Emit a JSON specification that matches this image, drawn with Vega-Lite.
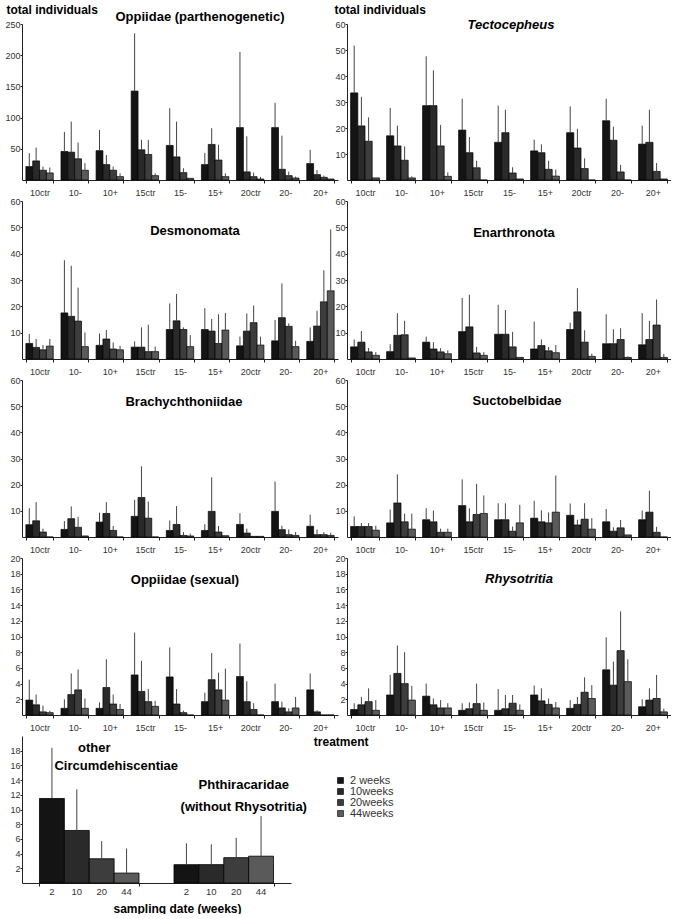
{
"$schema": "https://vega.github.io/schema/vega-lite/v6.json",
"background": "white",
"padding": {"left": 4, "top": 3, "right": 0, "bottom": 0},
"config": {
  "font": "Liberation Sans",
  "view": {"stroke": null},
  "axis": {"labelFont": "Liberation Sans", "labelFontSize": 9, "labelColor": "#333", "domainColor": "#222", "tickColor": "#222", "grid": false, "titleFont": "Liberation Sans", "labelOverlap": false},
  "title": {"font": "Liberation Sans", "fontSize": 13, "fontWeight": "bold", "frame": "group", "anchor": "middle", "color": "#000"},
  "legend": {"labelFont": "Liberation Sans"}
},
"data": {"values": [
{"p":"opp","t":"10ctr","w":"2","m":21.5,"u":43},{"p":"opp","t":"10ctr","w":"10","m":30.6,"u":52},{"p":"opp","t":"10ctr","w":"20","m":15.6,"u":21.5},{"p":"opp","t":"10ctr","w":"44","m":11.3,"u":20},
{"p":"opp","t":"10-","w":"2","m":45.7,"u":77},{"p":"opp","t":"10-","w":"10","m":44.6,"u":93.5},{"p":"opp","t":"10-","w":"20","m":34,"u":60},{"p":"opp","t":"10-","w":"44","m":15.6,"u":27},
{"p":"opp","t":"10+","w":"2","m":47,"u":80},{"p":"opp","t":"10+","w":"10","m":24.7,"u":40},{"p":"opp","t":"10+","w":"20","m":15.6,"u":21.5},{"p":"opp","t":"10+","w":"44","m":5.4,"u":10.7},
{"p":"opp","t":"15ctr","w":"2","m":142.5,"u":235},{"p":"opp","t":"15ctr","w":"10","m":48.4,"u":64.5},{"p":"opp","t":"15ctr","w":"20","m":40.9,"u":64.5},{"p":"opp","t":"15ctr","w":"44","m":7,"u":10.7},
{"p":"opp","t":"15-","w":"2","m":55.4,"u":115},{"p":"opp","t":"15-","w":"10","m":37,"u":93.5},{"p":"opp","t":"15-","w":"20","m":11.8,"u":18.8},{"p":"opp","t":"15-","w":"44","m":2.7,"u":2.7},
{"p":"opp","t":"15+","w":"2","m":24.7,"u":43.5},{"p":"opp","t":"15+","w":"10","m":57,"u":83},{"p":"opp","t":"15+","w":"20","m":32,"u":56.5},{"p":"opp","t":"15+","w":"44","m":5.4,"u":10.7},
{"p":"opp","t":"20ctr","w":"2","m":84,"u":205},{"p":"opp","t":"20ctr","w":"10","m":13,"u":70},{"p":"opp","t":"20ctr","w":"20","m":5.4,"u":11.8},{"p":"opp","t":"20ctr","w":"44","m":1.6,"u":5},
{"p":"opp","t":"20-","w":"2","m":84,"u":123.7},{"p":"opp","t":"20-","w":"10","m":17.2,"u":71},{"p":"opp","t":"20-","w":"20","m":7,"u":13.4},{"p":"opp","t":"20-","w":"44","m":3.2,"u":5.4},
{"p":"opp","t":"20+","w":"2","m":26.3,"u":48.4},{"p":"opp","t":"20+","w":"10","m":8.6,"u":16},{"p":"opp","t":"20+","w":"20","m":4.3,"u":7},{"p":"opp","t":"20+","w":"44","m":1.6,"u":1.6},

{"p":"tec","t":"10ctr","w":"2","m":33.5,"u":51.7},{"p":"tec","t":"10ctr","w":"10","m":20.8,"u":32},{"p":"tec","t":"10ctr","w":"20","m":14.9,"u":24.1},{"p":"tec","t":"10ctr","w":"44","m":0.8,"u":0.8},
{"p":"tec","t":"10-","w":"2","m":17,"u":27.7},{"p":"tec","t":"10-","w":"10","m":13.1,"u":20.9},{"p":"tec","t":"10-","w":"20","m":7.6,"u":12.9},{"p":"tec","t":"10-","w":"44","m":0.8,"u":1.4},
{"p":"tec","t":"10+","w":"2","m":28.6,"u":47.6},{"p":"tec","t":"10+","w":"10","m":28.6,"u":42.2},{"p":"tec","t":"10+","w":"20","m":13.1,"u":21.2},{"p":"tec","t":"10+","w":"44","m":1.4,"u":2.9},
{"p":"tec","t":"15ctr","w":"2","m":19.2,"u":31.2},{"p":"tec","t":"15ctr","w":"10","m":10.5,"u":16.5},{"p":"tec","t":"15ctr","w":"20","m":4.7,"u":7.4},{"p":"tec","t":"15ctr","w":"44","m":0,"u":0},
{"p":"tec","t":"15-","w":"2","m":14.5,"u":28.6},{"p":"tec","t":"15-","w":"10","m":18.2,"u":27},{"p":"tec","t":"15-","w":"20","m":2.7,"u":4.9},{"p":"tec","t":"15-","w":"44","m":0.4,"u":0.4},
{"p":"tec","t":"15+","w":"2","m":11.2,"u":15.5},{"p":"tec","t":"15+","w":"10","m":10.5,"u":13.7},{"p":"tec","t":"15+","w":"20","m":4.1,"u":7.4},{"p":"tec","t":"15+","w":"44","m":1.5,"u":4},
{"p":"tec","t":"20ctr","w":"2","m":18.2,"u":28.3},{"p":"tec","t":"20ctr","w":"10","m":12.3,"u":19.7},{"p":"tec","t":"20ctr","w":"20","m":4.4,"u":8.3},{"p":"tec","t":"20ctr","w":"44","m":0,"u":0},
{"p":"tec","t":"20-","w":"2","m":22.8,"u":31.2},{"p":"tec","t":"20-","w":"10","m":15.3,"u":20.5},{"p":"tec","t":"20-","w":"20","m":3.1,"u":5.8},{"p":"tec","t":"20-","w":"44","m":0,"u":0},
{"p":"tec","t":"20+","w":"2","m":13.8,"u":20.9},{"p":"tec","t":"20+","w":"10","m":14.5,"u":27},{"p":"tec","t":"20+","w":"20","m":3.3,"u":6.5},{"p":"tec","t":"20+","w":"44","m":0.4,"u":0.4},

{"p":"des","t":"10ctr","w":"2","m":5.9,"u":9.5},{"p":"des","t":"10ctr","w":"10","m":4.4,"u":7.6},{"p":"des","t":"10ctr","w":"20","m":3.5,"u":5.3},{"p":"des","t":"10ctr","w":"44","m":4.9,"u":7.6},
{"p":"des","t":"10-","w":"2","m":17.5,"u":37.5},{"p":"des","t":"10-","w":"10","m":16.2,"u":35.4},{"p":"des","t":"10-","w":"20","m":14.4,"u":27.1},{"p":"des","t":"10-","w":"44","m":4.7,"u":10.1},
{"p":"des","t":"10+","w":"2","m":5.2,"u":9.7},{"p":"des","t":"10+","w":"10","m":7.6,"u":11},{"p":"des","t":"10+","w":"20","m":3.8,"u":6.3},{"p":"des","t":"10+","w":"44","m":3.5,"u":5},
{"p":"des","t":"15ctr","w":"2","m":4.5,"u":6.7},{"p":"des","t":"15ctr","w":"10","m":4.5,"u":12},{"p":"des","t":"15ctr","w":"20","m":2.8,"u":13},{"p":"des","t":"15ctr","w":"44","m":2.8,"u":4.7},
{"p":"des","t":"15-","w":"2","m":11.2,"u":21.1},{"p":"des","t":"15-","w":"10","m":14.5,"u":24.7},{"p":"des","t":"15-","w":"20","m":11.2,"u":12},{"p":"des","t":"15-","w":"44","m":4.7,"u":9.1},
{"p":"des","t":"15+","w":"2","m":11.2,"u":19.3},{"p":"des","t":"15+","w":"10","m":10.6,"u":15.2},{"p":"des","t":"15+","w":"20","m":5.9,"u":17},{"p":"des","t":"15+","w":"44","m":11,"u":17.5},
{"p":"des","t":"20ctr","w":"2","m":5,"u":8.5},{"p":"des","t":"20ctr","w":"10","m":10.6,"u":17.3},{"p":"des","t":"20ctr","w":"20","m":13.8,"u":20.3},{"p":"des","t":"20ctr","w":"44","m":5.3,"u":8.5},
{"p":"des","t":"20-","w":"2","m":6.9,"u":14.8},{"p":"des","t":"20-","w":"10","m":15.7,"u":28.7},{"p":"des","t":"20-","w":"20","m":12.4,"u":13.5},{"p":"des","t":"20-","w":"44","m":4.7,"u":6.9},
{"p":"des","t":"20+","w":"2","m":6.7,"u":12},{"p":"des","t":"20+","w":"10","m":12.5,"u":18.3},{"p":"des","t":"20+","w":"20","m":21.7,"u":33.7},{"p":"des","t":"20+","w":"44","m":25.9,"u":49.2},

{"p":"ena","t":"10ctr","w":"2","m":4.6,"u":7.4},{"p":"ena","t":"10ctr","w":"10","m":6.4,"u":10.6},{"p":"ena","t":"10ctr","w":"20","m":2.7,"u":4.2},{"p":"ena","t":"10ctr","w":"44","m":1.4,"u":2.6},
{"p":"ena","t":"10-","w":"2","m":2.8,"u":5.6},{"p":"ena","t":"10-","w":"10","m":9,"u":17.4},{"p":"ena","t":"10-","w":"20","m":9.2,"u":14.5},{"p":"ena","t":"10-","w":"44","m":0.4,"u":0.4},
{"p":"ena","t":"10+","w":"2","m":6.4,"u":8.5},{"p":"ena","t":"10+","w":"10","m":3.8,"u":6.4},{"p":"ena","t":"10+","w":"20","m":2.7,"u":4.1},{"p":"ena","t":"10+","w":"44","m":2,"u":3.3},
{"p":"ena","t":"15ctr","w":"2","m":10.4,"u":23.2},{"p":"ena","t":"15ctr","w":"10","m":12.2,"u":24.4},{"p":"ena","t":"15ctr","w":"20","m":2.3,"u":4.6},{"p":"ena","t":"15ctr","w":"44","m":1.4,"u":2.6},
{"p":"ena","t":"15-","w":"2","m":9.4,"u":20.6},{"p":"ena","t":"15-","w":"10","m":9.4,"u":18.6},{"p":"ena","t":"15-","w":"20","m":4.6,"u":10.3},{"p":"ena","t":"15-","w":"44","m":0.6,"u":0.6},
{"p":"ena","t":"15+","w":"2","m":3.8,"u":14.2},{"p":"ena","t":"15+","w":"10","m":5.1,"u":7.4},{"p":"ena","t":"15+","w":"20","m":3.1,"u":4.6},{"p":"ena","t":"15+","w":"44","m":2.4,"u":5.3},
{"p":"ena","t":"20ctr","w":"2","m":11.2,"u":13.8},{"p":"ena","t":"20ctr","w":"10","m":17.9,"u":26.9},{"p":"ena","t":"20ctr","w":"20","m":6.4,"u":10.9},{"p":"ena","t":"20ctr","w":"44","m":1,"u":2},
{"p":"ena","t":"20-","w":"2","m":5.8,"u":17},{"p":"ena","t":"20-","w":"10","m":5.8,"u":11.3},{"p":"ena","t":"20-","w":"20","m":7.4,"u":11.7},{"p":"ena","t":"20-","w":"44","m":0.6,"u":1},
{"p":"ena","t":"20+","w":"2","m":5.4,"u":17.4},{"p":"ena","t":"20+","w":"10","m":7.4,"u":14.5},{"p":"ena","t":"20+","w":"20","m":12.9,"u":22.6},{"p":"ena","t":"20+","w":"44","m":0.6,"u":1.9},

{"p":"bra","t":"10ctr","w":"2","m":4.7,"u":11},{"p":"bra","t":"10ctr","w":"10","m":6.2,"u":13.3},{"p":"bra","t":"10ctr","w":"20","m":1.9,"u":3.2},{"p":"bra","t":"10ctr","w":"44","m":0,"u":0},
{"p":"bra","t":"10-","w":"2","m":2.9,"u":6.1},{"p":"bra","t":"10-","w":"10","m":7,"u":11.7},{"p":"bra","t":"10-","w":"20","m":3.7,"u":7.7},{"p":"bra","t":"10-","w":"44","m":0.4,"u":0.4},
{"p":"bra","t":"10+","w":"2","m":5.7,"u":9.3},{"p":"bra","t":"10+","w":"10","m":9,"u":13.3},{"p":"bra","t":"10+","w":"20","m":2.5,"u":4.2},{"p":"bra","t":"10+","w":"44","m":0,"u":0},
{"p":"bra","t":"15ctr","w":"2","m":7.9,"u":14.2},{"p":"bra","t":"15ctr","w":"10","m":15.1,"u":27},{"p":"bra","t":"15ctr","w":"20","m":7.2,"u":13.6},{"p":"bra","t":"15ctr","w":"44","m":0,"u":0},
{"p":"bra","t":"15-","w":"2","m":2.5,"u":6.3},{"p":"bra","t":"15-","w":"10","m":4.8,"u":11.8},{"p":"bra","t":"15-","w":"20","m":0.6,"u":1.9},{"p":"bra","t":"15-","w":"44","m":0.4,"u":1.3},
{"p":"bra","t":"15+","w":"2","m":2.5,"u":4.9},{"p":"bra","t":"15+","w":"10","m":9.8,"u":22.8},{"p":"bra","t":"15+","w":"20","m":1.9,"u":4.2},{"p":"bra","t":"15+","w":"44","m":0.5,"u":0.5},
{"p":"bra","t":"20ctr","w":"2","m":4.8,"u":9.1},{"p":"bra","t":"20ctr","w":"10","m":1.5,"u":3.2},{"p":"bra","t":"20ctr","w":"20","m":0.25,"u":0.25},{"p":"bra","t":"20ctr","w":"44","m":0.25,"u":0.25},
{"p":"bra","t":"20-","w":"2","m":9.8,"u":21.2},{"p":"bra","t":"20-","w":"10","m":2.8,"u":4.3},{"p":"bra","t":"20-","w":"20","m":0.9,"u":2.9},{"p":"bra","t":"20-","w":"44","m":0.6,"u":1.9},
{"p":"bra","t":"20+","w":"2","m":4.1,"u":8.5},{"p":"bra","t":"20+","w":"10","m":0.9,"u":2.9},{"p":"bra","t":"20+","w":"20","m":0.9,"u":1.9},{"p":"bra","t":"20+","w":"44","m":0.6,"u":1.6},

{"p":"suc","t":"10ctr","w":"2","m":4,"u":7.9},{"p":"suc","t":"10ctr","w":"10","m":4,"u":5.3},{"p":"suc","t":"10ctr","w":"20","m":4,"u":5.3},{"p":"suc","t":"10ctr","w":"44","m":2.6,"u":4.3},
{"p":"suc","t":"10-","w":"2","m":5.4,"u":10.5},{"p":"suc","t":"10-","w":"10","m":13,"u":23.9},{"p":"suc","t":"10-","w":"20","m":5.8,"u":8.9},{"p":"suc","t":"10-","w":"44","m":3,"u":8.9},
{"p":"suc","t":"10+","w":"2","m":6.6,"u":11},{"p":"suc","t":"10+","w":"10","m":5.8,"u":10.1},{"p":"suc","t":"10+","w":"20","m":1.8,"u":3.2},{"p":"suc","t":"10+","w":"44","m":1.8,"u":3.2},
{"p":"suc","t":"15ctr","w":"2","m":12,"u":22},{"p":"suc","t":"15ctr","w":"10","m":5.8,"u":11},{"p":"suc","t":"15ctr","w":"20","m":8.6,"u":20.3},{"p":"suc","t":"15ctr","w":"44","m":9,"u":15.9},
{"p":"suc","t":"15-","w":"2","m":6.6,"u":12.9},{"p":"suc","t":"15-","w":"10","m":6.6,"u":12.9},{"p":"suc","t":"15-","w":"20","m":2.2,"u":4},{"p":"suc","t":"15-","w":"44","m":5.4,"u":12.3},
{"p":"suc","t":"15+","w":"2","m":7.2,"u":13.8},{"p":"suc","t":"15+","w":"10","m":5.8,"u":10.2},{"p":"suc","t":"15+","w":"20","m":5.4,"u":9.4},{"p":"suc","t":"15+","w":"44","m":9.5,"u":23.5},
{"p":"suc","t":"20ctr","w":"2","m":8.3,"u":12.8},{"p":"suc","t":"20ctr","w":"10","m":4.6,"u":6.6},{"p":"suc","t":"20ctr","w":"20","m":6.8,"u":12.9},{"p":"suc","t":"20ctr","w":"44","m":3,"u":7.2},
{"p":"suc","t":"20-","w":"2","m":5.8,"u":10.7},{"p":"suc","t":"20-","w":"10","m":2.2,"u":3.7},{"p":"suc","t":"20-","w":"20","m":3.5,"u":6.5},{"p":"suc","t":"20-","w":"44","m":0.8,"u":0.8},
{"p":"suc","t":"20+","w":"2","m":6.6,"u":10.1},{"p":"suc","t":"20+","w":"10","m":9.5,"u":17.7},{"p":"suc","t":"20+","w":"20","m":1.8,"u":3.9},{"p":"suc","t":"20+","w":"44","m":0,"u":0},

{"p":"ops","t":"10ctr","w":"2","m":1.9,"u":4.5},{"p":"ops","t":"10ctr","w":"10","m":1.3,"u":2.6},{"p":"ops","t":"10ctr","w":"20","m":0.4,"u":1.2},{"p":"ops","t":"10ctr","w":"44","m":0.3,"u":0.55},
{"p":"ops","t":"10-","w":"2","m":0.85,"u":2},{"p":"ops","t":"10-","w":"10","m":2.6,"u":5.3},{"p":"ops","t":"10-","w":"20","m":3.2,"u":5.8},{"p":"ops","t":"10-","w":"44","m":0.85,"u":2.1},
{"p":"ops","t":"10+","w":"2","m":0.85,"u":1.6},{"p":"ops","t":"10+","w":"10","m":3.5,"u":7.1},{"p":"ops","t":"10+","w":"20","m":1.4,"u":2.6},{"p":"ops","t":"10+","w":"44","m":0.7,"u":1.4},
{"p":"ops","t":"15ctr","w":"2","m":5.1,"u":10.5},{"p":"ops","t":"15ctr","w":"10","m":3,"u":6.9},{"p":"ops","t":"15ctr","w":"20","m":1.7,"u":3.3},{"p":"ops","t":"15ctr","w":"44","m":1.1,"u":1.8},
{"p":"ops","t":"15-","w":"2","m":4.85,"u":8.6},{"p":"ops","t":"15-","w":"10","m":1.4,"u":3.3},{"p":"ops","t":"15-","w":"20","m":0.3,"u":0.55},{"p":"ops","t":"15-","w":"44","m":0,"u":0},
{"p":"ops","t":"15+","w":"2","m":1.7,"u":2.85},{"p":"ops","t":"15+","w":"10","m":4.5,"u":7.9},{"p":"ops","t":"15+","w":"20","m":3.2,"u":5.4},{"p":"ops","t":"15+","w":"44","m":1.9,"u":5.9},
{"p":"ops","t":"20ctr","w":"2","m":4.9,"u":9.1},{"p":"ops","t":"20ctr","w":"10","m":1.7,"u":4.3},{"p":"ops","t":"20ctr","w":"20","m":0.7,"u":1.5},{"p":"ops","t":"20ctr","w":"44","m":0,"u":0},
{"p":"ops","t":"20-","w":"2","m":1.7,"u":4},{"p":"ops","t":"20-","w":"10","m":0.9,"u":1.7},{"p":"ops","t":"20-","w":"20","m":0.4,"u":0.85},{"p":"ops","t":"20-","w":"44","m":0.9,"u":2.3},
{"p":"ops","t":"20+","w":"2","m":3.2,"u":5.3},{"p":"ops","t":"20+","w":"10","m":0.4,"u":0.6},{"p":"ops","t":"20+","w":"20","m":0,"u":0},{"p":"ops","t":"20+","w":"44","m":0,"u":0},

{"p":"rhy","t":"10ctr","w":"2","m":0.7,"u":1.5},{"p":"rhy","t":"10ctr","w":"10","m":1.3,"u":2.3},{"p":"rhy","t":"10ctr","w":"20","m":1.7,"u":3.4},{"p":"rhy","t":"10ctr","w":"44","m":0.6,"u":1.9},
{"p":"rhy","t":"10-","w":"2","m":2.55,"u":5.1},{"p":"rhy","t":"10-","w":"10","m":5.3,"u":8.85},{"p":"rhy","t":"10-","w":"20","m":4,"u":8},{"p":"rhy","t":"10-","w":"44","m":1.9,"u":3.7},
{"p":"rhy","t":"10+","w":"2","m":2.4,"u":4},{"p":"rhy","t":"10+","w":"10","m":1.3,"u":2.1},{"p":"rhy","t":"10+","w":"20","m":0.9,"u":1.9},{"p":"rhy","t":"10+","w":"44","m":0.9,"u":1.5},
{"p":"rhy","t":"15ctr","w":"2","m":0.6,"u":1.5},{"p":"rhy","t":"15ctr","w":"10","m":0.8,"u":1.6},{"p":"rhy","t":"15ctr","w":"20","m":1.45,"u":4},{"p":"rhy","t":"15ctr","w":"44","m":0.6,"u":1.6},
{"p":"rhy","t":"15-","w":"2","m":0.6,"u":3.3},{"p":"rhy","t":"15-","w":"10","m":0.8,"u":2.55},{"p":"rhy","t":"15-","w":"20","m":1.5,"u":2.55},{"p":"rhy","t":"15-","w":"44","m":0.6,"u":1.35},
{"p":"rhy","t":"15+","w":"2","m":2.55,"u":3.75},{"p":"rhy","t":"15+","w":"10","m":1.8,"u":3.4},{"p":"rhy","t":"15+","w":"20","m":1.35,"u":2.1},{"p":"rhy","t":"15+","w":"44","m":0.9,"u":1.65},
{"p":"rhy","t":"20ctr","w":"2","m":0.85,"u":1.9},{"p":"rhy","t":"20ctr","w":"10","m":1.35,"u":2.3},{"p":"rhy","t":"20ctr","w":"20","m":2.9,"u":4.8},{"p":"rhy","t":"20ctr","w":"44","m":2.1,"u":3.8},
{"p":"rhy","t":"20-","w":"2","m":5.75,"u":9.9},{"p":"rhy","t":"20-","w":"10","m":3.8,"u":6.8},{"p":"rhy","t":"20-","w":"20","m":8.2,"u":13.2},{"p":"rhy","t":"20-","w":"44","m":4.25,"u":7.1},
{"p":"rhy","t":"20+","w":"2","m":1.05,"u":2},{"p":"rhy","t":"20+","w":"10","m":1.9,"u":3.4},{"p":"rhy","t":"20+","w":"20","m":2.1,"u":5.1},{"p":"rhy","t":"20+","w":"44","m":0.4,"u":0.8},

{"p":"p9","t":"Circ","w":"2","m":11.5,"u":18.4},{"p":"p9","t":"Circ","w":"10","m":7.15,"u":12.75},{"p":"p9","t":"Circ","w":"20","m":3.3,"u":5.7},{"p":"p9","t":"Circ","w":"44","m":1.35,"u":4.7},
{"p":"p9","t":"Phth","w":"2","m":2.5,"u":5.4},{"p":"p9","t":"Phth","w":"10","m":2.5,"u":5.25},{"p":"p9","t":"Phth","w":"20","m":3.45,"u":6.15},{"p":"p9","t":"Phth","w":"44","m":3.65,"u":9.1}
]},
"columns": 2,
"bounds": "flush",
"spacing": {"row": 21, "column": 9},
"resolve": {"scale": {"color": "independent", "xOffset": "independent", "x": "independent", "y": "independent"}, "legend": {"color": "independent"}},
"concat": [
{
  "width": 316, "height": 156,
  "transform": [{"filter": "datum.p == 'opp'"}],
  "title": {"text": "Oppiidae (parthenogenetic)", "offset": -21, "dx": 20},
  "encoding": {
    "x": {"field": "t", "type": "nominal", "sort": ["10ctr","10-","10+","15ctr","15-","15+","20ctr","20-","20+"], "scale": {"paddingInner": 0.22, "paddingOuter": 0.11}, "axis": {"title": null, "labelAngle": 0, "tickBand": "extent", "tickSize": 3, "labelPadding": 5}},
    "xOffset": {"field": "w", "type": "nominal", "sort": ["2","10","20","44"]},
    "y": {"field": "m", "type": "quantitative", "scale": {"domain": [0, 250]}, "axis": {"values": [50,100,150,200,250], "labelOverlap": false, "tickSize": 2, "labelPadding": 0, "title": "total individuals", "titleAngle": 0, "titleAlign": "left", "titleBaseline": "alphabetic", "titleX": -16, "titleY": -11, "titleFontSize": 12, "titleFontWeight": "bold", "titleColor": "#000"}}
  },
  "layer": [
    {"mark": {"type": "bar", "stroke": "#000", "strokeWidth": 0.7}, "encoding": {"color": {"field": "w", "type": "nominal", "sort": ["2","10","20","44"], "scale": {"domain": ["2","10","20","44"], "range": ["#141414","#2a2a2a","#3d3d3d","#5a5a5a"]}, "legend": null}}},
    {"mark": {"type": "rule", "color": "#444", "strokeWidth": 1}, "encoding": {"y2": {"field": "u"}}}
  ]
},
{
  "width": 324, "height": 156,
  "transform": [{"filter": "datum.p == 'tec'"}],
  "title": {"text": "Tectocepheus", "offset": -29, "dx": 2, "fontStyle": "italic"},
  "encoding": {
    "x": {"field": "t", "type": "nominal", "sort": ["10ctr","10-","10+","15ctr","15-","15+","20ctr","20-","20+"], "scale": {"paddingInner": 0.2, "paddingOuter": 0.1}, "axis": {"title": null, "labelAngle": 0, "tickBand": "extent", "tickSize": 3, "labelPadding": 5}},
    "xOffset": {"field": "w", "type": "nominal", "sort": ["2","10","20","44"]},
    "y": {"field": "m", "type": "quantitative", "scale": {"domain": [0, 60]}, "axis": {"values": [10,20,30,40,50,60], "labelOverlap": false, "tickSize": 2, "labelPadding": 0, "title": "total individuals", "titleAngle": 0, "titleAlign": "left", "titleBaseline": "alphabetic", "titleX": -13, "titleY": -11, "titleFontSize": 12, "titleFontWeight": "bold", "titleColor": "#000"}}
  },
  "layer": [
    {"mark": {"type": "bar", "stroke": "#000", "strokeWidth": 0.7}, "encoding": {"color": {"field": "w", "type": "nominal", "sort": ["2","10","20","44"], "scale": {"domain": ["2","10","20","44"], "range": ["#141414","#2a2a2a","#3d3d3d","#5a5a5a"]}, "legend": null}}},
    {"mark": {"type": "rule", "color": "#444", "strokeWidth": 1}, "encoding": {"y2": {"field": "u"}}}
  ]
},
{
  "width": 316, "height": 158,
  "transform": [{"filter": "datum.p == 'des'"}],
  "title": {"text": "Desmonomata", "offset": -41, "dx": 15},
  "encoding": {
    "x": {"field": "t", "type": "nominal", "sort": ["10ctr","10-","10+","15ctr","15-","15+","20ctr","20-","20+"], "scale": {"paddingInner": 0.22, "paddingOuter": 0.11}, "axis": {"title": null, "labelAngle": 0, "tickBand": "extent", "tickSize": 3, "labelPadding": 5}},
    "xOffset": {"field": "w", "type": "nominal", "sort": ["2","10","20","44"]},
    "y": {"field": "m", "type": "quantitative", "scale": {"domain": [0, 60]}, "axis": {"values": [10,20,30,40,50,60], "labelOverlap": false, "tickSize": 2, "labelPadding": 0, "title": null}}
  },
  "layer": [
    {"mark": {"type": "bar", "stroke": "#000", "strokeWidth": 0.7}, "encoding": {"color": {"field": "w", "type": "nominal", "sort": ["2","10","20","44"], "scale": {"domain": ["2","10","20","44"], "range": ["#141414","#2a2a2a","#3d3d3d","#5a5a5a"]}, "legend": null}}},
    {"mark": {"type": "rule", "color": "#444", "strokeWidth": 1}, "encoding": {"y2": {"field": "u"}}}
  ]
},
{
  "width": 324, "height": 158,
  "transform": [{"filter": "datum.p == 'ena'"}],
  "title": {"text": "Enarthronota", "offset": -43, "dx": 5},
  "encoding": {
    "x": {"field": "t", "type": "nominal", "sort": ["10ctr","10-","10+","15ctr","15-","15+","20ctr","20-","20+"], "scale": {"paddingInner": 0.2, "paddingOuter": 0.1}, "axis": {"title": null, "labelAngle": 0, "tickBand": "extent", "tickSize": 3, "labelPadding": 5}},
    "xOffset": {"field": "w", "type": "nominal", "sort": ["2","10","20","44"]},
    "y": {"field": "m", "type": "quantitative", "scale": {"domain": [0, 60]}, "axis": {"values": [10,20,30,40,50,60], "labelOverlap": false, "tickSize": 2, "labelPadding": 0, "title": null}}
  },
  "layer": [
    {"mark": {"type": "bar", "stroke": "#000", "strokeWidth": 0.7}, "encoding": {"color": {"field": "w", "type": "nominal", "sort": ["2","10","20","44"], "scale": {"domain": ["2","10","20","44"], "range": ["#141414","#2a2a2a","#3d3d3d","#5a5a5a"]}, "legend": null}}},
    {"mark": {"type": "rule", "color": "#444", "strokeWidth": 1}, "encoding": {"y2": {"field": "u"}}}
  ]
},
{
  "width": 316, "height": 157,
  "transform": [{"filter": "datum.p == 'bra'"}],
  "title": {"text": "Brachychthoniidae", "offset": -33, "dx": 4},
  "encoding": {
    "x": {"field": "t", "type": "nominal", "sort": ["10ctr","10-","10+","15ctr","15-","15+","20ctr","20-","20+"], "scale": {"paddingInner": 0.22, "paddingOuter": 0.11}, "axis": {"title": null, "labelAngle": 0, "tickBand": "extent", "tickSize": 3, "labelPadding": 5}},
    "xOffset": {"field": "w", "type": "nominal", "sort": ["2","10","20","44"]},
    "y": {"field": "m", "type": "quantitative", "scale": {"domain": [0, 60]}, "axis": {"values": [10,20,30,40,50,60], "labelOverlap": false, "tickSize": 2, "labelPadding": 0, "title": null}}
  },
  "layer": [
    {"mark": {"type": "bar", "stroke": "#000", "strokeWidth": 0.7}, "encoding": {"color": {"field": "w", "type": "nominal", "sort": ["2","10","20","44"], "scale": {"domain": ["2","10","20","44"], "range": ["#141414","#2a2a2a","#3d3d3d","#5a5a5a"]}, "legend": null}}},
    {"mark": {"type": "rule", "color": "#444", "strokeWidth": 1}, "encoding": {"y2": {"field": "u"}}}
  ]
},
{
  "width": 324, "height": 157,
  "transform": [{"filter": "datum.p == 'suc'"}],
  "title": {"text": "Suctobelbidae", "offset": -32, "dx": 8},
  "encoding": {
    "x": {"field": "t", "type": "nominal", "sort": ["10ctr","10-","10+","15ctr","15-","15+","20ctr","20-","20+"], "scale": {"paddingInner": 0.2, "paddingOuter": 0.1}, "axis": {"title": null, "labelAngle": 0, "tickBand": "extent", "tickSize": 3, "labelPadding": 5}},
    "xOffset": {"field": "w", "type": "nominal", "sort": ["2","10","20","44"]},
    "y": {"field": "m", "type": "quantitative", "scale": {"domain": [0, 60]}, "axis": {"values": [10,20,30,40,50,60], "labelOverlap": false, "tickSize": 2, "labelPadding": 0, "title": null}}
  },
  "layer": [
    {"mark": {"type": "bar", "stroke": "#000", "strokeWidth": 0.7}, "encoding": {"color": {"field": "w", "type": "nominal", "sort": ["2","10","20","44"], "scale": {"domain": ["2","10","20","44"], "range": ["#141414","#2a2a2a","#3d3d3d","#5a5a5a"]}, "legend": null}}},
    {"mark": {"type": "rule", "color": "#444", "strokeWidth": 1}, "encoding": {"y2": {"field": "u"}}}
  ]
},
{
  "width": 316, "height": 157,
  "transform": [{"filter": "datum.p == 'ops'"}],
  "title": {"text": "Oppiidae (sexual)", "offset": -33, "dx": 5},
  "encoding": {
    "x": {"field": "t", "type": "nominal", "sort": ["10ctr","10-","10+","15ctr","15-","15+","20ctr","20-","20+"], "scale": {"paddingInner": 0.22, "paddingOuter": 0.11}, "axis": {"title": "treatment", "labelAngle": 0, "tickBand": "extent", "tickSize": 3, "labelPadding": 5, "titleFontSize": 12, "titleFontWeight": "bold", "titleColor": "#000", "titleX": 346, "titleY": 30, "titleAlign": "right", "titleBaseline": "alphabetic"}},
    "xOffset": {"field": "w", "type": "nominal", "sort": ["2","10","20","44"]},
    "y": {"field": "m", "type": "quantitative", "scale": {"domain": [0, 20]}, "axis": {"values": [2,4,6,8,10,12,14,16,18,20], "labelOverlap": false, "tickSize": 2, "labelPadding": 0, "title": null}}
  },
  "layer": [
    {"mark": {"type": "bar", "stroke": "#000", "strokeWidth": 0.7}, "encoding": {"color": {"field": "w", "type": "nominal", "sort": ["2","10","20","44"], "scale": {"domain": ["2","10","20","44"], "range": ["#141414","#2a2a2a","#3d3d3d","#5a5a5a"]}, "legend": null}}},
    {"mark": {"type": "rule", "color": "#444", "strokeWidth": 1}, "encoding": {"y2": {"field": "u"}}}
  ]
},
{
  "width": 324, "height": 157,
  "transform": [{"filter": "datum.p == 'rhy'"}],
  "title": {"text": "Rhysotritia", "offset": -32, "dx": 10, "fontStyle": "italic"},
  "encoding": {
    "x": {"field": "t", "type": "nominal", "sort": ["10ctr","10-","10+","15ctr","15-","15+","20ctr","20-","20+"], "scale": {"paddingInner": 0.2, "paddingOuter": 0.1}, "axis": {"title": null, "labelAngle": 0, "tickBand": "extent", "tickSize": 3, "labelPadding": 5}},
    "xOffset": {"field": "w", "type": "nominal", "sort": ["2","10","20","44"]},
    "y": {"field": "m", "type": "quantitative", "scale": {"domain": [0, 20]}, "axis": {"values": [2,4,6,8,10,12,14,16,18,20], "labelOverlap": false, "tickSize": 2, "labelPadding": 0, "title": null}}
  },
  "layer": [
    {"mark": {"type": "bar", "stroke": "#000", "strokeWidth": 0.7}, "encoding": {"color": {"field": "w", "type": "nominal", "sort": ["2","10","20","44"], "scale": {"domain": ["2","10","20","44"], "range": ["#141414","#2a2a2a","#3d3d3d","#5a5a5a"]}, "legend": null}}},
    {"mark": {"type": "rule", "color": "#444", "strokeWidth": 1}, "encoding": {"y2": {"field": "u"}}}
  ]
},
{
  "width": 269, "height": 147,
  "transform": [{"filter": "datum.p == 'p9'"}],
  "encoding": {
    "x": {"field": "t", "type": "nominal", "sort": ["Circ","Phth"], "scale": {"paddingInner": 0.26, "paddingOuter": 0.13}, "axis": {"title": "sampling date (weeks)", "labels": false, "tickBand": "extent", "tickSize": 3, "titleFontSize": 12, "titleFontWeight": "bold", "titleColor": "#000", "titleX": 155, "titleY": 29, "titleAlign": "center", "titleBaseline": "alphabetic"}},
    "y": {"field": "m", "type": "quantitative", "scale": {"domain": [0, 20]}, "axis": {"values": [2,4,6,8,10,12,14,16,18], "labelOverlap": false, "tickSize": 2, "labelPadding": 0, "title": null}}
  },
  "layer": [
    {"mark": {"type": "bar", "stroke": "#000", "strokeWidth": 0.8},
     "encoding": {
       "xOffset": {"field": "w", "type": "nominal", "sort": ["2","10","20","44"]},
       "color": {"field": "w", "type": "nominal", "sort": ["2","10","20","44"], "scale": {"domain": ["2","10","20","44"], "range": ["#141414","#2a2a2a","#3d3d3d","#5a5a5a"]},
         "legend": {"orient": "none", "legendX": 313, "legendY": 39, "title": null, "symbolType": "square", "symbolSize": 36, "symbolStrokeColor": "#000", "symbolStrokeWidth": 0.6, "labelFontSize": 11, "labelColor": "#333", "labelExpr": "datum.label == '2' ? '\u20072 weeks' : datum.label + 'weeks'", "rowPadding": -1, "labelOffset": 4}}
     }},
    {"mark": {"type": "rule", "color": "#444", "strokeWidth": 1},
     "encoding": {
       "xOffset": {"field": "w", "type": "nominal", "sort": ["2","10","20","44"]},
       "y2": {"field": "u"}
     }},
    {"mark": {"type": "text", "baseline": "top", "fontSize": 9.5, "color": "#333", "dy": 4},
     "encoding": {
       "xOffset": {"field": "w", "type": "nominal", "sort": ["2","10","20","44"]},
       "y": {"datum": 0},
       "text": {"field": "w"}
     }},
    {"transform": [{"filter": "datum.t == 'Circ' && datum.w == '2'"}],
     "mark": {"type": "text", "text": "other", "fontSize": 13, "fontWeight": "bold", "baseline": "top", "dx": 5, "color": "#000"},
     "encoding": {"y": {"datum": 19.2}}},
    {"transform": [{"filter": "datum.t == 'Circ' && datum.w == '2'"}],
     "mark": {"type": "text", "text": "Circumdehiscentiae", "fontSize": 13, "fontWeight": "bold", "baseline": "top", "dx": 27, "dy": 18, "color": "#000"},
     "encoding": {"y": {"datum": 19.2}}},
    {"transform": [{"filter": "datum.t == 'Phth' && datum.w == '2'"}],
     "mark": {"type": "text", "text": ["Phthiracaridae", "(without Rhysotritia)"], "fontSize": 13, "fontWeight": "bold", "baseline": "top", "lineHeight": 22, "dx": 20, "color": "#000"},
     "encoding": {"y": {"datum": 14.1}}}
  ]
}
]
}
